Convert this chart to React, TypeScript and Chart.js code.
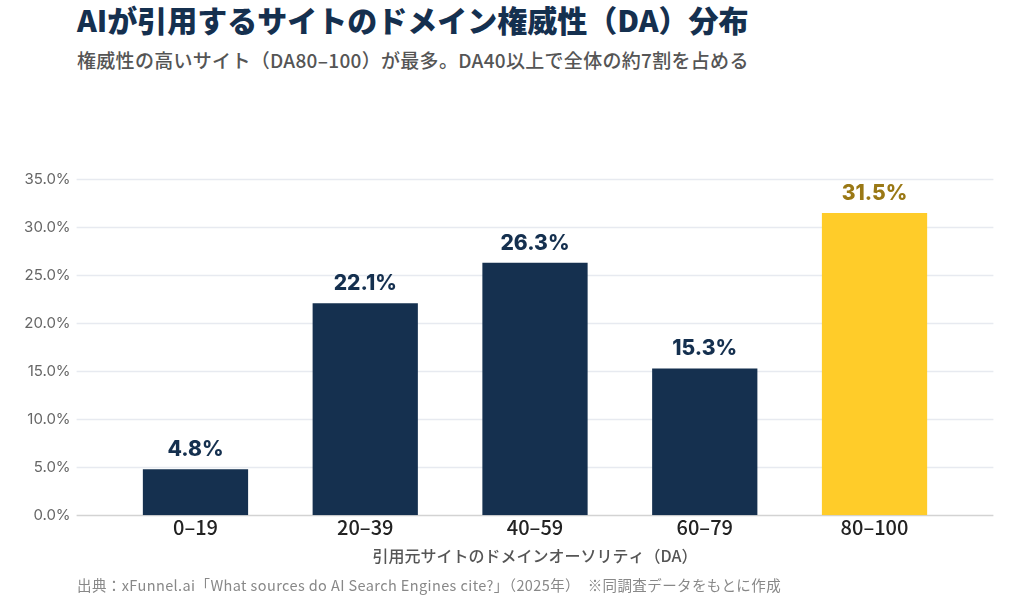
import { useEffect, useRef } from 'react';
import { Chart, registerables } from 'chart.js';

Chart.register(...registerables);

// DA buckets and share of cited sites (%)
const categories = ['0–19', '20–39', '40–59', '60–79', '80–100'];
const shares = [4.8, 22.1, 26.3, 15.3, 31.5];
const barColors = ['#15304F', '#15304F', '#15304F', '#15304F', '#FFCC29'];
const valueLabelColors = ['#15304F', '#15304F', '#15304F', '#15304F', '#9A7815'];
const yMax = 35;
const yStep = 5;

const titleText = 'AIが引用するサイトのドメイン権威性（DA）分布';
const subtitleText = '権威性の高いサイト（DA80–100）が最多。DA40以上で全体の約7割を占める';
const xAxisTitle = '引用元サイトのドメインオーソリティ（DA）';
const sourceText = '出典：xFunnel.ai「What sources do AI Search Engines cite?」（2025年）　※同調査データをもとに作成';

const NAVY = '#15304F';

// Horizontal grid lines that run a little past both sides of the plot area
const extendedGrid = {
  id: 'extendedGrid',
  beforeDatasetsDraw(chart: any) {
    const { ctx, chartArea, scales } = chart;
    const y = scales.y;
    ctx.save();
    y.ticks.forEach((t: any) => {
      const py = Math.round(y.getPixelForValue(t.value)) + 0.5;
      ctx.beginPath();
      ctx.lineWidth = 1.5;
      ctx.strokeStyle = t.value === 0 ? '#D3D3D3' : '#E7EAF0';
      ctx.moveTo(chartArea.left - 34, py);
      ctx.lineTo(chartArea.right + 34, py);
      ctx.stroke();
    });
    ctx.restore();
  },
};

// Percentage labels above each bar
const valueLabels = {
  id: 'valueLabels',
  afterDatasetsDraw(chart: any) {
    const { ctx } = chart;
    const meta = chart.getDatasetMeta(0);
    ctx.save();
    ctx.font = '800 21px Inter, "DejaVu Sans", sans-serif';
    ctx.textAlign = 'center';
    ctx.textBaseline = 'alphabetic';
    meta.data.forEach((bar: any, i: number) => {
      ctx.fillStyle = valueLabelColors[i];
      ctx.fillText(shares[i].toFixed(1) + '%', bar.x, bar.y - 13);
    });
    ctx.restore();
  },
};

export default function App() {
  const canvasRef = useRef<HTMLCanvasElement | null>(null);

  useEffect(() => {
    if (!canvasRef.current) return;
    const chart = new Chart(canvasRef.current, {
      type: 'bar',
      data: {
        labels: categories,
        datasets: [
          {
            data: shares,
            backgroundColor: barColors,
            borderWidth: 0,
            categoryPercentage: 1,
            barPercentage: 0.62,
          },
        ],
      },
      options: {
        responsive: false,
        animation: false,
        devicePixelRatio: 1,
        layout: { padding: { left: 0, right: 64.6, top: 179.3, bottom: 38.7 } },
        plugins: {
          legend: { display: false },
          tooltip: { enabled: false },
        },
        scales: {
          x: {
            grid: { display: false, drawTicks: false },
            border: { display: false },
            ticks: {
              color: '#222222',
              padding: 0,
              font: { family: '"Noto Sans CJK JP", "Noto Sans", sans-serif', size: 20, weight: 500, lineHeight: 1.2 },
            },
            title: {
              display: true,
              text: xAxisTitle,
              color: '#555555',
              padding: { top: 0, bottom: 9.7 },
              font: { family: '"Noto Sans CJK JP", sans-serif', size: 16, weight: 500, lineHeight: 1.2 },
            },
            afterFit(scale: any) {
              scale.height = 60;
            },
          },
          y: {
            min: 0,
            max: yMax,
            grid: { display: false, drawTicks: false },
            border: { display: false },
            ticks: {
              stepSize: yStep,
              padding: 40,
              color: '#666666',
              font: { family: 'Inter, "Noto Sans", sans-serif', size: 15, weight: 400 },
              callback: (v: any) => Number(v).toFixed(1) + '%',
            },
            afterFit(scale: any) {
              scale.width = 110.6;
            },
          },
        },
      },
      plugins: [extendedGrid, valueLabels],
    });
    return () => chart.destroy();
  }, []);

  return (
    <div
      style={{
        position: 'fixed',
        left: 0,
        top: 0,
        width: 1024,
        height: 614,
        background: '#ffffff',
        overflow: 'hidden',
      }}
    >
      <div
        style={{
          position: 'absolute',
          left: 77,
          top: 3,
          fontFamily: '"Noto Sans CJK JP", sans-serif',
          fontWeight: 900,
          fontSize: 30,
          lineHeight: '33px',
          color: NAVY,
          whiteSpace: 'nowrap',
        }}
      >
        {titleText}
      </div>
      <div
        style={{
          position: 'absolute',
          left: 77,
          top: 49,
          fontFamily: '"Noto Sans CJK JP", sans-serif',
          fontWeight: 500,
          fontSize: 19,
          lineHeight: '22px',
          letterSpacing: '0.3px',
          color: '#555555',
          whiteSpace: 'nowrap',
        }}
      >
        {subtitleText}
      </div>
      <canvas ref={canvasRef} width={1024} height={614} style={{ position: 'absolute', left: 0, top: 0 }} />
      <div
        style={{
          position: 'absolute',
          left: 77,
          top: 576,
          fontFamily: '"Noto Sans CJK JP", sans-serif',
          fontWeight: 400,
          fontSize: 14.5,
          lineHeight: '17px',
          letterSpacing: '0.4px',
          color: '#888888',
          whiteSpace: 'nowrap',
        }}
      >
        {sourceText}
      </div>
    </div>
  );
}
